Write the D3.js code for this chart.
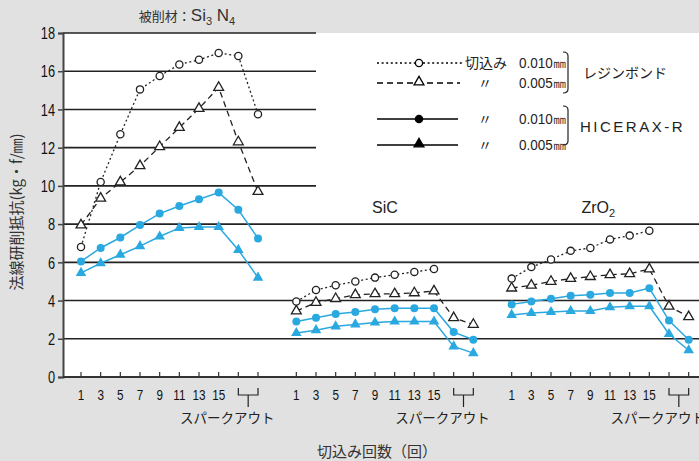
<!DOCTYPE html>
<html><head><meta charset="utf-8">
<script src="https://cdn.jsdelivr.net/npm/d3@7"></script>
<style>
html,body{margin:0;padding:0;background:#e1e1e1;}
svg{display:block;}
.nar{font-family:"Liberation Sans Narrow","Arial Narrow","Liberation Sans",sans-serif;}
.jp{font-family:"Noto Sans CJK JP","Noto Sans",sans-serif;}
.lat{font-family:"Liberation Sans",Arial,sans-serif;}
</style></head>
<body>
<script>
// ---- data ----
const groups = ["Si3N4", "SiC", "ZrO2"];
const xTickLabels = ["1", "3", "5", "7", "9", "11", "13", "15"];
const sparkLabel = "スパークアウト";
const yTicks = [0, 2, 4, 6, 8, 10, 12, 14, 16, 18];
// resin bond, depth of cut 0.010mm (open circle, dotted)
const resin010 = [
  [6.8, 10.2, 12.7, 15.05, 15.75, 16.35, 16.6, 16.95, 16.8, 13.75],
  [3.95, 4.55, 4.8, 5.0, 5.2, 5.35, 5.5, 5.65, null, null],
  [5.15, 5.75, 6.15, 6.6, 6.75, 7.2, 7.4, 7.65, null, null]
];
// resin bond, 0.005mm (open triangle, dashed)
const resin005 = [
  [7.95, 9.35, 10.2, 11.05, 12.05, 13.05, 14.05, 15.15, 12.3, 9.7],
  [3.45, 3.9, 4.1, 4.3, 4.35, 4.35, 4.4, 4.5, 3.1, 2.75],
  [4.65, 4.8, 5.0, 5.15, 5.25, 5.35, 5.4, 5.65, 3.7, 3.15]
];
// HICERAX-R, 0.010mm (filled circle)
const hic010 = [
  [6.05, 6.75, 7.3, 7.95, 8.55, 8.95, 9.3, 9.65, 8.75, 7.25],
  [2.9, 3.1, 3.3, 3.4, 3.55, 3.6, 3.6, 3.6, 2.35, 1.95],
  [3.8, 3.95, 4.1, 4.25, 4.3, 4.4, 4.4, 4.65, 2.95, 1.95]
];
// HICERAX-R, 0.005mm (filled triangle)
const hic005 = [
  [5.45, 5.95, 6.4, 6.85, 7.35, 7.8, 7.85, 7.85, 6.65, 5.2],
  [2.3, 2.45, 2.65, 2.75, 2.85, 2.9, 2.9, 2.9, 1.6, 1.25],
  [3.25, 3.35, 3.4, 3.45, 3.45, 3.65, 3.7, 3.7, 2.25, 1.4]
];

const W = 699, H = 461;
const blue = "#2aa8e0";
const ink = "#222";

const svg = d3.select("body").append("svg").attr("width", W).attr("height", H);

// condense helper (no narrow font installed)
function condense(sel, f) {
  sel.each(function () {
    const w = this.getComputedTextLength();
    d3.select(this).attr("textLength", w * f).attr("lengthAdjust", "spacingAndGlyphs");
  });
}

const y = d3.scaleLinear().domain([0, 18]).range([377, 33]);
const gx = d3.scaleBand().domain(groups).range([71, 717]);
const ix = d3.scalePoint().domain(d3.range(10)).range([10, 187]);
const X = (g, i) => gx(groups[g]) + ix(i);

// plot background
svg.append("rect").attr("x", 63).attr("y", y(18)).attr("width", W - 63).attr("height", y(0) - y(18)).attr("fill", "#fff");

// gridlines
yTicks.filter(v => v > 0).forEach(v => {
  svg.append("line").attr("x1", 63).attr("x2", v >= 10 ? 316 : W)
    .attr("y1", y(v)).attr("y2", y(v)).attr("stroke", ink).attr("stroke-width", 1.6);
});

// y axis
const yAxis = d3.axisLeft(y).tickValues(yTicks).tickSize(5).tickPadding(3);
const ya = svg.append("g").attr("transform", "translate(63,0)").call(yAxis);
ya.select(".domain").attr("stroke", "#444").attr("stroke-width", 2);
ya.selectAll(".tick line").attr("stroke", "#444").attr("stroke-width", 1.5);
ya.selectAll(".tick text").attr("class", "nar").attr("font-size", 16).attr("fill", "#111").attr("dy", "0.36em");
condense(ya.selectAll(".tick text"), 0.8);

// x axis line
svg.append("line").attr("x1", 63).attr("x2", W).attr("y1", y(0)).attr("y2", y(0)).attr("stroke", "#333").attr("stroke-width", 2);

// x ticks per group
groups.forEach((gname, g) => {
  const gg = svg.append("g");
  d3.range(10).forEach(i => {
    gg.append("line").attr("x1", X(g, i)).attr("x2", X(g, i)).attr("y1", y(0) - 5).attr("y2", y(0)).attr("stroke", "#333").attr("stroke-width", 1.2);
  });
  const lbl = gg.selectAll("text.xl").data(xTickLabels).join("text").attr("class", "nar xl")
    .attr("x", (t, i) => X(g, i)).attr("y", 400).attr("text-anchor", "middle")
    .attr("font-size", 15).attr("fill", "#111").text(t => t);
  condense(lbl, 0.78);
  const a = X(g, 8), b = X(g, 9), m = (a + b) / 2;
  gg.append("path").attr("d", `M${a},388V395H${b}V388M${m},395V407`).attr("fill", "none").attr("stroke", "#222").attr("stroke-width", 1.2);
  gg.append("text").attr("class", "jp").attr("x", m - 21).attr("y", 423).attr("text-anchor", "middle")
    .attr("font-size", 13.5).attr("fill", "#222").text(sparkLabel);
});

// lines
const line = g => d3.line().defined(d => d != null).x((d, i) => X(g, i)).y(d => y(d));
const series = [
  {data: hic005, color: blue, dash: null, sym: "tri", fill: blue},
  {data: hic010, color: blue, dash: null, sym: "circ", fill: blue},
  {data: resin005, color: ink, dash: "6,4", sym: "tri", fill: "#fff"},
  {data: resin010, color: ink, dash: "2,2.6", sym: "circ", fill: "#fff"}
];
const triOpen = d3.symbol().type(d3.symbolTriangle).size(42);
const triFill = d3.symbol().type(d3.symbolTriangle).size(48);
series.forEach(s => {
  s.data.forEach((arr, g) => {
    svg.append("path").attr("d", line(g)(arr)).attr("fill", "none").attr("stroke", s.color)
      .attr("stroke-width", s.color === blue ? 1.5 : 1.3).attr("stroke-dasharray", s.dash);
    arr.forEach((v, i) => {
      if (v == null) return;
      if (s.sym === "circ") {
        svg.append("circle").attr("cx", X(g, i)).attr("cy", y(v)).attr("r", s.color === blue ? 4 : 3.6)
          .attr("fill", s.fill).attr("stroke", s.color).attr("stroke-width", s.color === blue ? 0 : 1.3);
      } else {
        svg.append("path").attr("transform", `translate(${X(g, i)},${y(v)})`)
          .attr("d", s.color === blue ? triFill() : triOpen())
          .attr("fill", s.fill).attr("stroke", s.color).attr("stroke-width", s.color === blue ? 0 : 1.3);
      }
    });
  });
});

// title
const t = svg.append("text").attr("x", 187).attr("y", 21).attr("text-anchor", "middle").attr("fill", "#333").attr("font-size", 15);
t.append("tspan").attr("class", "jp").attr("font-size", 13).text("被削材：");
t.append("tspan").attr("class", "lat").attr("font-size", 17).text("Si");
t.append("tspan").attr("class", "lat").attr("font-size", 11).attr("dy", 4).text("3");
t.append("tspan").attr("class", "lat").attr("font-size", 17).attr("dy", -4).text(" N");
t.append("tspan").attr("class", "lat").attr("font-size", 11).attr("dy", 4).text("4");

// group labels
svg.append("text").attr("class", "lat").attr("x", X(1, 4) + 10).attr("y", 213).attr("text-anchor", "middle")
  .attr("font-size", 16).attr("fill", "#222").text("SiC");
const z = svg.append("text").attr("class", "lat").attr("x", X(2, 4) + 8).attr("y", 213).attr("text-anchor", "middle")
  .attr("font-size", 16).attr("fill", "#222");
z.append("tspan").text("ZrO");
z.append("tspan").attr("font-size", 11).attr("dy", 4).text("2");

// y axis title
svg.append("text").attr("class", "jp").attr("transform", "translate(22,212) rotate(-90)").attr("text-anchor", "middle")
  .attr("font-size", 15).attr("fill", "#333").text("法線研削抵抗(kg・f/㎜)");

// x axis title
svg.append("text").attr("class", "jp").attr("x", 377).attr("y", 457).attr("text-anchor", "middle")
  .attr("font-size", 15).attr("fill", "#333").text("切込み回数（回）");

// legend
const legendRows = [
  {yy: 63, dash: "2,2.6", sym: "circ", fill: "#fff", x2: 462, label: "切込み", val: "0.010㎜"},
  {yy: 83, dash: "6,4", sym: "tri", fill: "#fff", x2: 460, label: "〃", val: "0.005㎜"},
  {yy: 119, dash: null, sym: "circ", fill: "#000", x2: 458, label: "〃", val: "0.010㎜"},
  {yy: 145, dash: null, sym: "tri", fill: "#000", x2: 458, label: "〃", val: "0.005㎜"}
];
const lg = svg.append("g");
legendRows.forEach((r, k) => {
  lg.append("line").attr("x1", 377).attr("x2", r.x2).attr("y1", r.yy).attr("y2", r.yy).attr("stroke", "#000")
    .attr("stroke-width", 1.3).attr("stroke-dasharray", r.dash);
  if (r.sym === "circ") {
    lg.append("circle").attr("cx", 419).attr("cy", r.yy).attr("r", 3.6).attr("fill", r.fill).attr("stroke", "#000").attr("stroke-width", 1.3);
  } else {
    lg.append("path").attr("transform", `translate(419,${r.yy - 1})`).attr("d", triOpen())
      .attr("fill", r.fill).attr("stroke", "#000").attr("stroke-width", 1.3);
  }
  lg.append("text").attr("class", "jp").attr("x", k === 0 ? 465 : 478).attr("y", r.yy + 5).attr("font-size", 14).attr("fill", "#222").text(r.label);
  const vt = lg.append("text").attr("class", "nar").attr("x", 519).attr("y", r.yy + 5).attr("font-size", 15).attr("fill", "#222").text(r.val);
  condense(vt, 0.9);
});
lg.append("path").attr("d", "M563,52Q568,52 568,56V89Q568,93 563,93").attr("fill", "none").attr("stroke", "#222").attr("stroke-width", 1.2);
lg.append("path").attr("d", "M563,106Q568,106 568,110V141Q568,145 563,145").attr("fill", "none").attr("stroke", "#222").attr("stroke-width", 1.2);
lg.append("text").attr("class", "jp").attr("x", 583).attr("y", 78).attr("font-size", 14).attr("fill", "#222").text("レジンボンド");
lg.append("text").attr("class", "lat").attr("x", 580).attr("y", 132).attr("font-size", 15).attr("letter-spacing", 2.5).attr("fill", "#222").text("HICERAX-R");
</script>
</body></html>
